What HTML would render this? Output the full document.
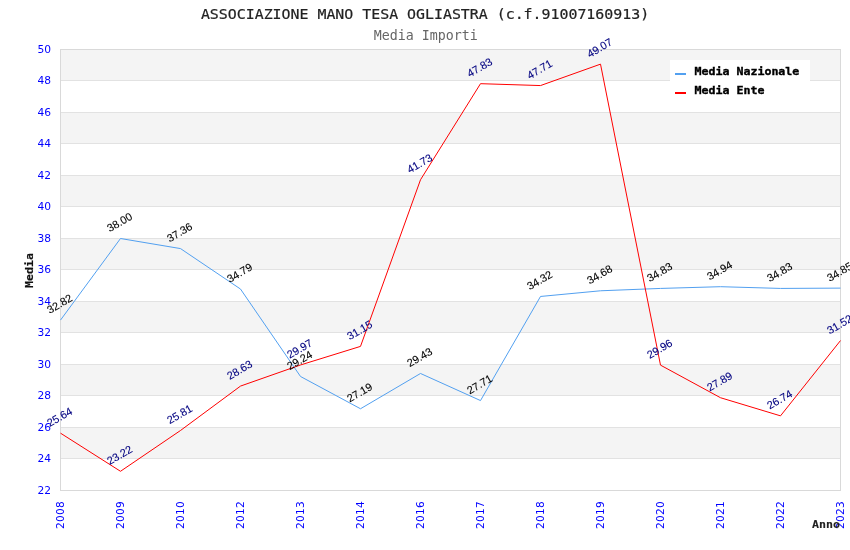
<!DOCTYPE html>
<html><head><meta charset="utf-8"><title>Media Importi</title>
<style>
html,body{margin:0;padding:0;background:#fff;}
svg{display:block}
.t{font-family:"DejaVu Sans Mono","Liberation Mono",monospace;}
.ax{font-family:"DejaVu Sans","Liberation Sans",sans-serif;font-size:10.67px;fill:#0000ff;}
.lb{font-family:"Liberation Sans",sans-serif;font-size:10.9px;stroke-width:0.1px;}
.bm{font-family:"DejaVu Sans Mono","Liberation Mono",monospace;font-weight:bold;font-size:10.5px;fill:#000;stroke:#000;stroke-width:0.35px;}
</style></head><body>
<svg width="850" height="550" viewBox="0 0 850 550">
<rect width="850" height="550" fill="#ffffff"/>
<rect x="60" y="49.5" width="781" height="31.5" fill="#f4f4f4"/>
<rect x="60" y="112.5" width="781" height="31.5" fill="#f4f4f4"/>
<rect x="60" y="175.5" width="781" height="31.5" fill="#f4f4f4"/>
<rect x="60" y="238.5" width="781" height="31.5" fill="#f4f4f4"/>
<rect x="60" y="301.5" width="781" height="31.5" fill="#f4f4f4"/>
<rect x="60" y="364.5" width="781" height="31.5" fill="#f4f4f4"/>
<rect x="60" y="427.5" width="781" height="31.5" fill="#f4f4f4"/>
<line x1="60" y1="80.5" x2="841" y2="80.5" stroke="#e2e2e2" stroke-width="1"/>
<line x1="60" y1="112.5" x2="841" y2="112.5" stroke="#e2e2e2" stroke-width="1"/>
<line x1="60" y1="143.5" x2="841" y2="143.5" stroke="#e2e2e2" stroke-width="1"/>
<line x1="60" y1="175.5" x2="841" y2="175.5" stroke="#e2e2e2" stroke-width="1"/>
<line x1="60" y1="206.5" x2="841" y2="206.5" stroke="#e2e2e2" stroke-width="1"/>
<line x1="60" y1="238.5" x2="841" y2="238.5" stroke="#e2e2e2" stroke-width="1"/>
<line x1="60" y1="269.5" x2="841" y2="269.5" stroke="#e2e2e2" stroke-width="1"/>
<line x1="60" y1="301.5" x2="841" y2="301.5" stroke="#e2e2e2" stroke-width="1"/>
<line x1="60" y1="332.5" x2="841" y2="332.5" stroke="#e2e2e2" stroke-width="1"/>
<line x1="60" y1="364.5" x2="841" y2="364.5" stroke="#e2e2e2" stroke-width="1"/>
<line x1="60" y1="395.5" x2="841" y2="395.5" stroke="#e2e2e2" stroke-width="1"/>
<line x1="60" y1="427.5" x2="841" y2="427.5" stroke="#e2e2e2" stroke-width="1"/>
<line x1="60" y1="458.5" x2="841" y2="458.5" stroke="#e2e2e2" stroke-width="1"/>
<rect x="60.5" y="49.5" width="780" height="441" fill="none" stroke="#d9d9d9" stroke-width="1"/>
<text class="t" transform="translate(425,19) scale(1.121,1)" text-anchor="middle" font-size="13.3px" fill="#222" stroke="#222" stroke-width="0.2">ASSOCIAZIONE MANO TESA OGLIASTRA (c.f.91007160913)</text>
<text class="t" x="425.7" y="39.5" text-anchor="middle" font-size="13.3px" fill="#666">Media Importi</text>
<text class="ax" x="51" y="52.8" text-anchor="end">50</text>
<text class="ax" x="51" y="83.8" text-anchor="end">48</text>
<text class="ax" x="51" y="115.8" text-anchor="end">46</text>
<text class="ax" x="51" y="146.8" text-anchor="end">44</text>
<text class="ax" x="51" y="178.8" text-anchor="end">42</text>
<text class="ax" x="51" y="209.8" text-anchor="end">40</text>
<text class="ax" x="51" y="241.8" text-anchor="end">38</text>
<text class="ax" x="51" y="272.8" text-anchor="end">36</text>
<text class="ax" x="51" y="304.8" text-anchor="end">34</text>
<text class="ax" x="51" y="335.8" text-anchor="end">32</text>
<text class="ax" x="51" y="367.8" text-anchor="end">30</text>
<text class="ax" x="51" y="398.8" text-anchor="end">28</text>
<text class="ax" x="51" y="430.8" text-anchor="end">26</text>
<text class="ax" x="51" y="461.8" text-anchor="end">24</text>
<text class="ax" x="51" y="493.8" text-anchor="end">22</text>
<text class="ax" style="letter-spacing:0.2px" transform="translate(64,529) rotate(-90)">2008</text>
<text class="ax" style="letter-spacing:0.2px" transform="translate(124,529) rotate(-90)">2009</text>
<text class="ax" style="letter-spacing:0.2px" transform="translate(184,529) rotate(-90)">2010</text>
<text class="ax" style="letter-spacing:0.2px" transform="translate(244,529) rotate(-90)">2012</text>
<text class="ax" style="letter-spacing:0.2px" transform="translate(304,529) rotate(-90)">2013</text>
<text class="ax" style="letter-spacing:0.2px" transform="translate(364,529) rotate(-90)">2014</text>
<text class="ax" style="letter-spacing:0.2px" transform="translate(424,529) rotate(-90)">2016</text>
<text class="ax" style="letter-spacing:0.2px" transform="translate(484,529) rotate(-90)">2017</text>
<text class="ax" style="letter-spacing:0.2px" transform="translate(544,529) rotate(-90)">2018</text>
<text class="ax" style="letter-spacing:0.2px" transform="translate(604,529) rotate(-90)">2019</text>
<text class="ax" style="letter-spacing:0.2px" transform="translate(664,529) rotate(-90)">2020</text>
<text class="ax" style="letter-spacing:0.2px" transform="translate(724,529) rotate(-90)">2021</text>
<text class="ax" style="letter-spacing:0.2px" transform="translate(784,529) rotate(-90)">2022</text>
<text class="ax" style="letter-spacing:0.2px" transform="translate(844,529) rotate(-90)">2023</text>
<text class="bm" style="stroke-width:0.15px;fill:#111;stroke:#111" transform="translate(33,288) rotate(-90) scale(1.107,1)">Media</text>
<text class="bm" style="stroke-width:0.1px;fill:#222;stroke:#222" transform="translate(840,528) scale(1.107,1)" text-anchor="end">Anno</text>
<polyline points="60.5,320.08 120.5,238.50 180.5,248.58 240.5,289.06 300.5,376.47 360.5,408.76 420.5,373.48 480.5,400.57 540.5,296.46 600.5,290.79 660.5,288.43 720.5,286.70 780.5,288.43 840.5,288.11" fill="none" stroke="#52a0f0" stroke-width="1" stroke-linejoin="round"/>
<polyline points="60.5,433.17 120.5,471.29 180.5,430.49 240.5,386.08 300.5,364.97 360.5,346.39 420.5,179.75 480.5,83.68 540.5,85.57 600.5,64.15 660.5,365.13 720.5,397.73 780.5,415.85 840.5,340.56" fill="none" stroke="#ff0000" stroke-width="1" stroke-linejoin="round"/>
<text class="lb" fill="#000000" stroke="#000000" text-anchor="middle" transform="translate(59.6,303.8) rotate(-30)" y="3.8">32.82</text>
<text class="lb" fill="#000000" stroke="#000000" text-anchor="middle" transform="translate(119.6,222.2) rotate(-30)" y="3.8">38.00</text>
<text class="lb" fill="#000000" stroke="#000000" text-anchor="middle" transform="translate(179.6,232.3) rotate(-30)" y="3.8">37.36</text>
<text class="lb" fill="#000000" stroke="#000000" text-anchor="middle" transform="translate(239.6,272.8) rotate(-30)" y="3.8">34.79</text>
<text class="lb" fill="#000000" stroke="#000000" text-anchor="middle" transform="translate(299.6,360.2) rotate(-30)" y="3.8">29.24</text>
<text class="lb" fill="#000000" stroke="#000000" text-anchor="middle" transform="translate(359.6,392.5) rotate(-30)" y="3.8">27.19</text>
<text class="lb" fill="#000000" stroke="#000000" text-anchor="middle" transform="translate(419.6,357.2) rotate(-30)" y="3.8">29.43</text>
<text class="lb" fill="#000000" stroke="#000000" text-anchor="middle" transform="translate(479.6,384.3) rotate(-30)" y="3.8">27.71</text>
<text class="lb" fill="#000000" stroke="#000000" text-anchor="middle" transform="translate(539.6,280.2) rotate(-30)" y="3.8">34.32</text>
<text class="lb" fill="#000000" stroke="#000000" text-anchor="middle" transform="translate(599.6,274.5) rotate(-30)" y="3.8">34.68</text>
<text class="lb" fill="#000000" stroke="#000000" text-anchor="middle" transform="translate(659.6,272.1) rotate(-30)" y="3.8">34.83</text>
<text class="lb" fill="#000000" stroke="#000000" text-anchor="middle" transform="translate(719.6,270.4) rotate(-30)" y="3.8">34.94</text>
<text class="lb" fill="#000000" stroke="#000000" text-anchor="middle" transform="translate(779.6,272.1) rotate(-30)" y="3.8">34.83</text>
<text class="lb" fill="#000000" stroke="#000000" text-anchor="middle" transform="translate(839.6,271.8) rotate(-30)" y="3.8">34.85</text>
<text class="lb" fill="#000080" stroke="#000080" text-anchor="middle" transform="translate(59.6,416.9) rotate(-30)" y="3.8">25.64</text>
<text class="lb" fill="#000080" stroke="#000080" text-anchor="middle" transform="translate(119.6,455.0) rotate(-30)" y="3.8">23.22</text>
<text class="lb" fill="#000080" stroke="#000080" text-anchor="middle" transform="translate(179.6,414.2) rotate(-30)" y="3.8">25.81</text>
<text class="lb" fill="#000080" stroke="#000080" text-anchor="middle" transform="translate(239.6,369.8) rotate(-30)" y="3.8">28.63</text>
<text class="lb" fill="#000080" stroke="#000080" text-anchor="middle" transform="translate(299.6,348.7) rotate(-30)" y="3.8">29.97</text>
<text class="lb" fill="#000080" stroke="#000080" text-anchor="middle" transform="translate(359.6,330.1) rotate(-30)" y="3.8">31.15</text>
<text class="lb" fill="#000080" stroke="#000080" text-anchor="middle" transform="translate(419.6,163.5) rotate(-30)" y="3.8">41.73</text>
<text class="lb" fill="#000080" stroke="#000080" text-anchor="middle" transform="translate(479.6,67.4) rotate(-30)" y="3.8">47.83</text>
<text class="lb" fill="#000080" stroke="#000080" text-anchor="middle" transform="translate(539.6,69.3) rotate(-30)" y="3.8">47.71</text>
<text class="lb" fill="#000080" stroke="#000080" text-anchor="middle" transform="translate(599.6,47.8) rotate(-30)" y="3.8">49.07</text>
<text class="lb" fill="#000080" stroke="#000080" text-anchor="middle" transform="translate(659.6,348.8) rotate(-30)" y="3.8">29.96</text>
<text class="lb" fill="#000080" stroke="#000080" text-anchor="middle" transform="translate(719.6,381.4) rotate(-30)" y="3.8">27.89</text>
<text class="lb" fill="#000080" stroke="#000080" text-anchor="middle" transform="translate(779.6,399.5) rotate(-30)" y="3.8">26.74</text>
<text class="lb" fill="#000080" stroke="#000080" text-anchor="middle" transform="translate(839.6,324.3) rotate(-30)" y="3.8">31.52</text>
<rect x="670" y="60" width="140" height="41" fill="#ffffff"/>
<rect x="675" y="73" width="11" height="2" fill="#52a0f0"/>
<rect x="675" y="92" width="11" height="2" fill="#ff0000"/>
<text class="bm" transform="translate(694.5,75) scale(1.107,1)">Media Nazionale</text>
<text class="bm" transform="translate(694.5,94) scale(1.107,1)">Media Ente</text>
</svg></body></html>
